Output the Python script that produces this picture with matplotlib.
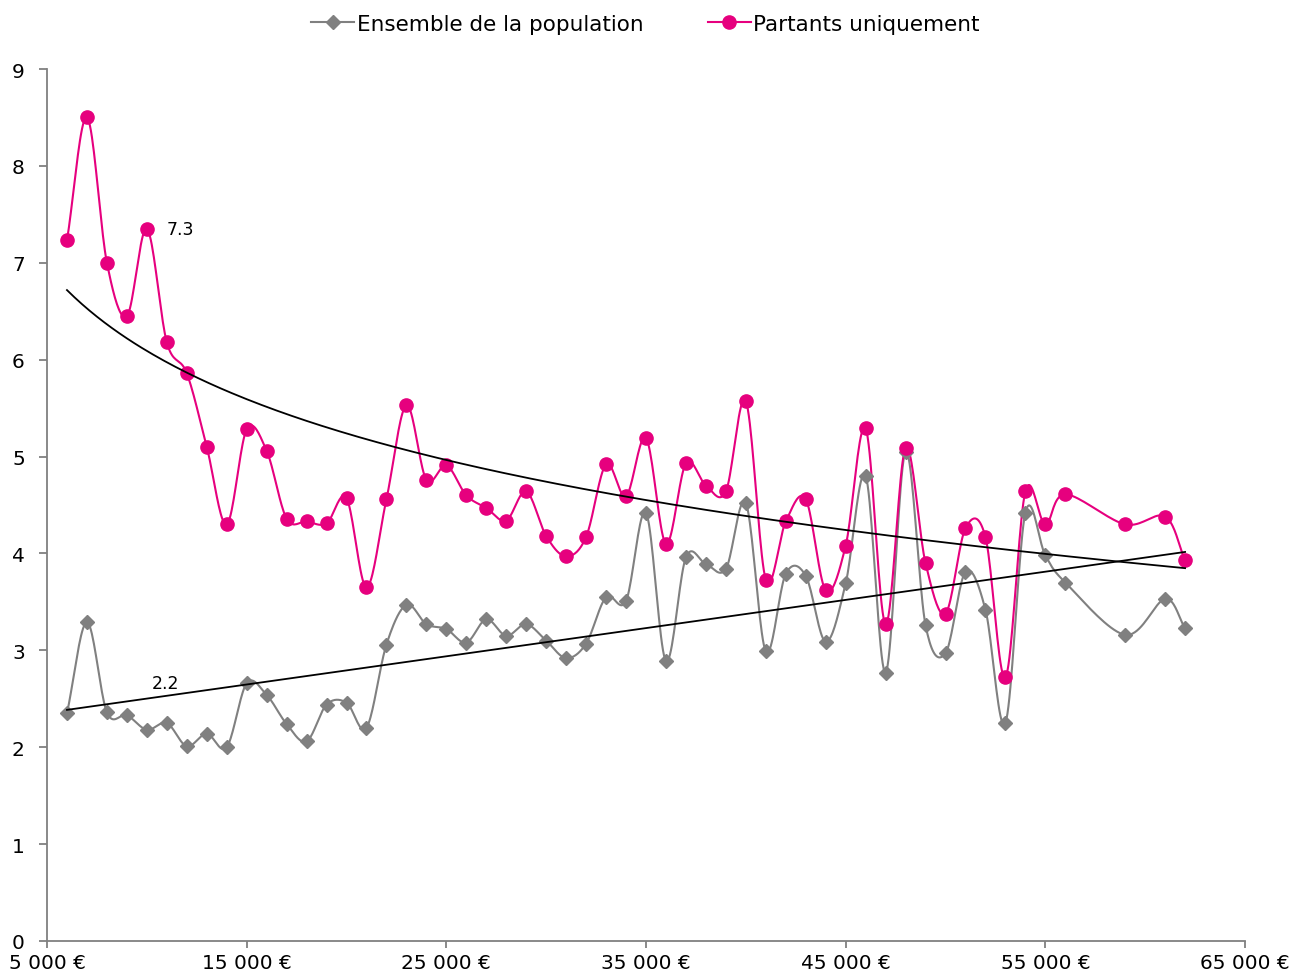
import numpy as np
import matplotlib
matplotlib.use("Agg")
import matplotlib.pyplot as plt
from matplotlib.ticker import FuncFormatter

# ---------------- data ----------------
revenus = [6000, 7000, 8000, 9000, 10000, 11000, 12000, 13000, 14000, 15000,
           16000, 17000, 18000, 19000, 20000, 21000, 22000, 23000, 24000, 25000,
           26000, 27000, 28000, 29000, 30000, 31000, 32000, 33000, 34000, 35000,
           36000, 37000, 38000, 39000, 40000, 41000, 42000, 43000, 44000, 45000,
           46000, 47000, 48000, 49000, 50000, 51000, 52000, 53000, 54000, 55000,
           56000, 59000, 61000, 62000]

ensemble = [2.35, 3.29, 2.36, 2.33, 2.18, 2.25, 2.01, 2.14, 2.00, 2.66,
            2.54, 2.24, 2.06, 2.44, 2.46, 2.20, 3.06, 3.47, 3.27, 3.22,
            3.08, 3.32, 3.15, 3.27, 3.10, 2.92, 3.07, 3.55, 3.51, 4.42,
            2.89, 3.96, 3.89, 3.84, 4.52, 2.99, 3.79, 3.77, 3.09, 3.69,
            4.80, 2.77, 5.05, 3.26, 2.97, 3.81, 3.42, 2.25, 4.42, 3.98,
            3.70, 3.16, 3.53, 3.23]

partants = [7.23, 8.50, 7.00, 6.45, 7.35, 6.18, 5.86, 5.10, 4.30, 5.28,
            5.06, 4.36, 4.33, 4.31, 4.57, 3.65, 4.56, 5.53, 4.76, 4.91,
            4.60, 4.47, 4.34, 4.64, 4.18, 3.97, 4.17, 4.92, 4.59, 5.19,
            4.10, 4.93, 4.70, 4.64, 5.57, 3.73, 4.33, 4.56, 3.62, 4.08,
            5.29, 3.27, 5.09, 3.90, 3.38, 4.26, 4.17, 2.72, 4.64, 4.30,
            4.61, 4.30, 4.38, 3.93]

# logarithmic trend of "Partants" (y = a*ln(x) + b), as shown on the chart
trend_log_a = -1.229
trend_log_b = 17.41

series_labels = ["Ensemble de la population", "Partants uniquement"]
x_ticks = [5000, 15000, 25000, 35000, 45000, 55000, 65000]
y_ticks = [0, 1, 2, 3, 4, 5, 6, 7, 8, 9]
annot_partants = "7.3"
annot_ensemble = "2.2"

GRAY = "#808080"
PINK = "#E6007E"

plt.rcParams['font.family'] = ['DejaVu Sans']


def smooth(x, y, n=20):
    """Bezier smoothing (like spreadsheet smoothed lines)."""
    x = np.asarray(x, float)
    y = np.asarray(y, float)
    px = np.concatenate([[2 * x[0] - x[1]], x, [2 * x[-1] - x[-2]]])
    py = np.concatenate([[2 * y[0] - y[1]], y, [2 * y[-1] - y[-2]]])
    xs, ys = [], []
    t = np.linspace(0, 1, n, endpoint=False)
    for i in range(1, len(px) - 2):
        p0x, p1x, p2x, p3x = px[i - 1:i + 3]
        p0y, p1y, p2y, p3y = py[i - 1:i + 3]
        c1x = p1x + (p2x - p0x) / 6
        c1y = p1y + (p2y - p0y) / 6
        c2x = p2x - (p3x - p1x) / 6
        c2y = p2y - (p3y - p1y) / 6
        bx = ((1 - t) ** 3) * p1x + 3 * ((1 - t) ** 2) * t * c1x + 3 * (1 - t) * t ** 2 * c2x + t ** 3 * p2x
        by = ((1 - t) ** 3) * p1y + 3 * ((1 - t) ** 2) * t * c1y + 3 * (1 - t) * t ** 2 * c2y + t ** 3 * p2y
        xs.append(bx)
        ys.append(by)
    xs.append([x[-1]])
    ys.append([y[-1]])
    return np.concatenate(xs), np.concatenate(ys)


fig = plt.figure(figsize=(12.91, 9.78), dpi=100)
ax = fig.add_axes([47 / 1291, 36 / 978, (1245 - 47) / 1291, (942 - 70) / 978])

x = np.array(revenus, float)
ye = np.array(ensemble)
yp = np.array(partants)

sx, sy = smooth(x, ye)
ax.plot(sx, sy, color=GRAY, lw=1.5, zorder=2)
ax.plot(x, ye, ls='none', marker='D', ms=7, color=GRAY, zorder=3)
sx, sy = smooth(x, yp)
ax.plot(sx, sy, color=PINK, lw=1.5, zorder=2)
ax.plot(x, yp, ls='none', marker='o', ms=9.5, color=PINK, zorder=3)

# trend lines
xt = np.linspace(x[0], x[-1], 300)
ax.plot(xt, trend_log_a * np.log(xt) + trend_log_b, color='black', lw=1.3, zorder=4)
m, c = np.polyfit(x, ye, 1)
ax.plot(xt, m * xt + c, color='black', lw=1.3, zorder=4)

ax.text(11000, 7.35, annot_partants, fontsize=12.5, va='center', ha='left')
ax.text(10250, 2.66, annot_ensemble, fontsize=12.5, va='center', ha='left')

# legend
h1, = ax.plot([], [], color=GRAY, lw=1.5, marker='D', ms=7)
h2, = ax.plot([], [], color=PINK, lw=1.5, marker='o', ms=9.5)
fig.legend([h1, h2], series_labels, loc='center', bbox_to_anchor=(0.5, 1 - 25 / 978),
           ncol=2, frameon=False, fontsize=15.5, handlelength=2.0, handletextpad=0.1,
           columnspacing=3.0)

ax.set_xlim(5000, 65000)
ax.set_ylim(0, 9)
ax.set_xticks(x_ticks)
ax.set_yticks(y_ticks)
ax.xaxis.set_major_formatter(FuncFormatter(lambda v, p: f"{int(v):,} €".replace(",", " ")))
for s in ['top', 'right']:
    ax.spines[s].set_visible(False)
for s in ['left', 'bottom']:
    ax.spines[s].set_color(GRAY)
    ax.spines[s].set_linewidth(1.3)
ax.tick_params(axis='both', colors=GRAY, labelcolor='black', labelsize=14.5, length=6, width=1.3)
ax.tick_params(axis='y', pad=10)
ax.tick_params(axis='x', pad=4, length=5)

fig.savefig("out.png", dpi=100)
